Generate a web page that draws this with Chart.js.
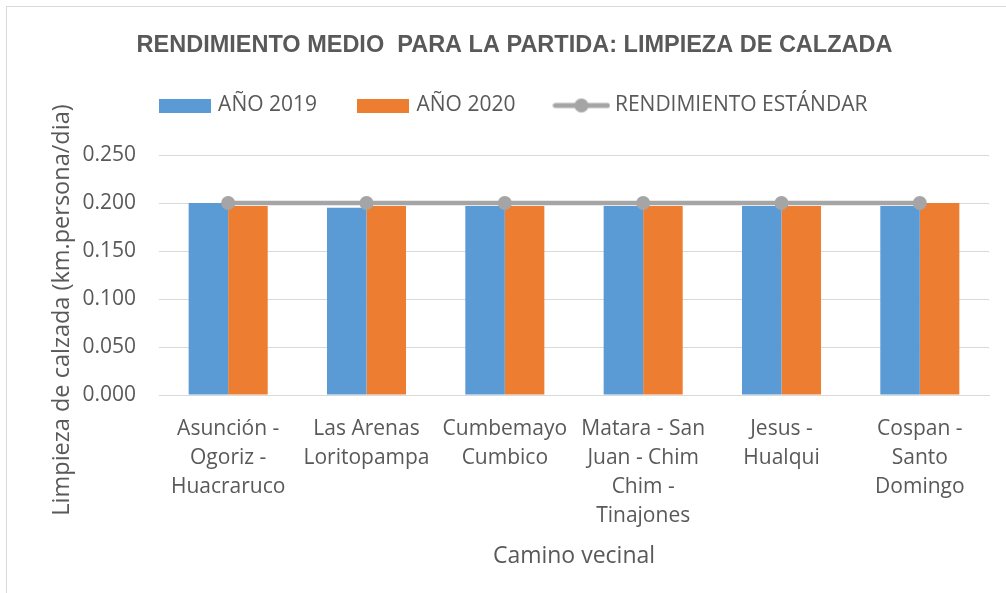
<!DOCTYPE html>
<html>
<head>
<meta charset="utf-8">
<script src="https://cdn.jsdelivr.net/npm/chart.js@4/dist/chart.umd.min.js"></script>
<style>
  html, body { margin: 0; padding: 0; background: #ffffff; }
  #wrap { width: 1006px; height: 593px; }
</style>
</head>
<body>
<div id="wrap"><canvas id="rendimientoChart" width="1006" height="593"></canvas></div>
<script>
const caminos = [
    ["Asunción -", "Ogoriz -", "Huacraruco"],
    ["Las Arenas", "Loritopampa"],
    ["Cumbemayo", "Cumbico"],
    ["Matara - San", "Juan - Chim", "Chim -", "Tinajones"],
    ["Jesus -", "Hualqui"],
    ["Cospan -", "Santo", "Domingo"]
];
const anio2019 = [0.200, 0.195, 0.197, 0.197, 0.197, 0.197];
const anio2020 = [0.197, 0.197, 0.197, 0.197, 0.197, 0.200];
const estandar = [0.200, 0.200, 0.200, 0.200, 0.200, 0.200];
const yTicks = [0, 0.05, 0.10, 0.15, 0.20, 0.25];

const AZUL = "#5b9bd5";
const NARANJA = "#ed7d31";
const GRIS = "#a5a5a5";
const TEXTO = "#595959";
const FUENTE = "'Open Sans', 'DejaVu Sans', sans-serif";

// little images used as legend symbols
function legendRect(color) {
    const c = document.createElement("canvas");
    c.width = 52;
    c.height = 14;
    const ctx = c.getContext("2d");
    ctx.fillStyle = color;
    ctx.fillRect(0, 0, 52, 14);
    return c;
}

function legendLine(color) {
    const c = document.createElement("canvas");
    c.width = 58;
    c.height = 16;
    const ctx = c.getContext("2d");
    ctx.strokeStyle = color;
    ctx.lineWidth = 5;
    ctx.lineCap = "round";
    ctx.beginPath();
    ctx.moveTo(3, 8);
    ctx.lineTo(55, 8);
    ctx.stroke();
    ctx.fillStyle = color;
    ctx.beginPath();
    ctx.arc(29, 8, 7, 0, Math.PI * 2);
    ctx.fill();
    return c;
}

const legendSymbols = [legendRect(AZUL), legendRect(NARANJA), legendLine(GRIS)];

// white background and the light frame around the chart
const chartFrame = {
    id: "chartFrame",
    beforeDraw: function (chart) {
        const ctx = chart.ctx;
        ctx.save();
        ctx.fillStyle = "#ffffff";
        ctx.fillRect(0, 0, chart.width, chart.height);
        ctx.strokeStyle = "#d9d9d9";
        ctx.lineWidth = 1;
        ctx.strokeRect(6.5, 6.5, 1100, 700);
        ctx.restore();
    },
};

// vertical axis title, centred a bit lower than the plot area
const yAxisTitle = {
    id: "yAxisTitle",
    afterDraw: function (chart) {
        const ctx = chart.ctx;
        ctx.save();
        ctx.translate(62, 310);
        ctx.rotate(-Math.PI / 2);
        ctx.fillStyle = TEXTO;
        ctx.font = "23.5px " + FUENTE;
        ctx.textAlign = "center";
        ctx.textBaseline = "middle";
        ctx.fillText("Limpieza de calzada (km.persona/dia)", 0, 0);
        ctx.restore();
    },
};

new Chart(document.getElementById("rendimientoChart"), {
    data: {
        labels: caminos,
        datasets: [
            {
                type: "bar",
                label: "AÑO 2019",
                data: anio2019,
                backgroundColor: AZUL,
                order: 1,
            },
            {
                type: "bar",
                label: "AÑO 2020",
                data: anio2020,
                backgroundColor: NARANJA,
                order: 1,
            },
            {
                type: "line",
                label: "RENDIMIENTO ESTÁNDAR",
                data: estandar,
                borderColor: GRIS,
                backgroundColor: GRIS,
                borderWidth: 4.5,
                pointRadius: 7,
                pointHoverRadius: 7,
                pointBackgroundColor: GRIS,
                pointBorderWidth: 0,
                order: 0,
            },
        ],
    },
    options: {
        responsive: false,
        animation: false,
        layout: {
            padding: { left: 40, right: 17, top: 0, bottom: 21 },
        },
        datasets: {
            bar: {
                categoryPercentage: 0.5714,
                barPercentage: 1,
            },
        },
        plugins: {
            tooltip: { enabled: false },
            title: {
                display: true,
                text: "RENDIMIENTO MEDIO  PARA LA PARTIDA: LIMPIEZA DE CALZADA",
                color: TEXTO,
                font: { family: "'Liberation Sans', Arial, sans-serif", size: 23.5, weight: "bold", lineHeight: 1 },
                padding: { top: 34, bottom: -5.5 },
            },
            subtitle: {
                // empty spacer between legend and plot
                display: true,
                text: "",
                weight: 500,
                font: { size: 1, lineHeight: 1 },
                padding: { top: 28, bottom: 0 },
            },
            legend: {
                display: true,
                labels: {
                    color: TEXTO,
                    font: { family: FUENTE, size: 21 },
                    usePointStyle: true,
                    pointStyleWidth: 46,
                    padding: 43,
                    generateLabels: function (chart) {
                        return chart.data.datasets.map(function (ds, i) {
                            return {
                                text: ds.label,
                                fillStyle: ds.backgroundColor,
                                strokeStyle: ds.backgroundColor,
                                lineWidth: 0,
                                pointStyle: legendSymbols[i],
                                fontColor: TEXTO,
                                hidden: false,
                                datasetIndex: i,
                            };
                        });
                    },
                },
            },
        },
        scales: {
            x: {
                grid: { display: false },
                border: { display: true, color: "#d9d9d9", width: 1 },
                ticks: {
                    color: TEXTO,
                    font: { family: FUENTE, size: 21, lineHeight: 1.38 },
                    maxRotation: 0,
                    autoSkip: false,
                    padding: 12,
                },
                title: {
                    display: true,
                    text: "Camino vecinal",
                    color: TEXTO,
                    font: { family: FUENTE, size: 23 },
                    padding: { top: 6, bottom: 2 },
                },
                afterFit: function (scale) {
                    scale.height = 177;
                },
            },
            y: {
                min: 0,
                max: 0.25,
                afterBuildTicks: function (scale) {
                    scale.ticks = yTicks.map(function (v) { return { value: v }; });
                },
                grid: { color: "#d9d9d9", drawTicks: false },
                border: { display: false },
                ticks: {
                    color: TEXTO,
                    font: { family: FUENTE, size: 21 },
                    padding: 23,
                    callback: function (v) { return Number(v).toFixed(3); },
                },
                afterFit: function (scale) {
                    scale.width = 119;
                },
            },
        },
    },
    plugins: [chartFrame, yAxisTitle],
});
</script>
</body>
</html>
